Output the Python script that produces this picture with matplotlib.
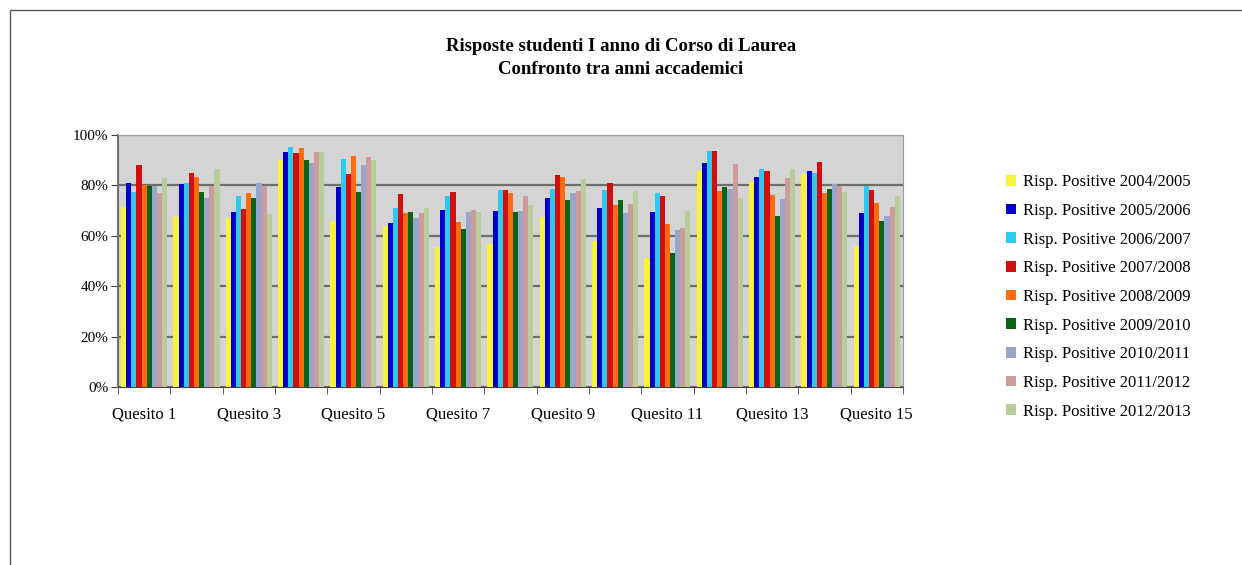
import numpy as np
import matplotlib
matplotlib.use("Agg")
from matplotlib import pyplot as plt
from matplotlib.ticker import PercentFormatter
from matplotlib.patches import Rectangle

quesiti = ["Quesito %d" % i for i in range(1, 16)]
anni = ["2004/2005", "2005/2006", "2006/2007", "2007/2008", "2008/2009",
        "2009/2010", "2010/2011", "2011/2012", "2012/2013"]

# one row per academic year, one value per question (percent)
r0405 = [71.3, 67.5, 66.9, 90.1, 65.9, 63.9, 55.7, 56.9, 67.3, 58.0, 51.4, 85.8, 81.2, 84.5, 56.0]
r0506 = [80.9, 80.5, 69.5, 93.4, 79.2, 65.1, 70.2, 69.9, 74.9, 71.2, 69.5, 88.9, 83.2, 85.8, 68.9]
r0607 = [77.2, 80.8, 75.7, 95.4, 90.5, 71.0, 75.9, 78.1, 78.5, 78.1, 76.8, 93.8, 86.5, 84.9, 79.6]
r0708 = [88.1, 84.9, 70.8, 92.8, 84.5, 76.5, 77.3, 78.3, 84.2, 80.8, 75.9, 93.8, 85.8, 89.4, 78.3]
r0809 = [80.1, 83.2, 77.1, 94.8, 91.5, 69.0, 65.3, 76.9, 83.4, 72.2, 64.6, 77.9, 76.1, 76.9, 73.2]
r0910 = [79.6, 77.5, 74.9, 90.1, 77.2, 69.6, 62.6, 69.3, 74.3, 74.2, 53.0, 79.2, 67.7, 78.5, 65.9]
r1011 = [79.6, 74.9, 80.9, 89.1, 88.2, 67.0, 69.3, 69.9, 76.8, 69.0, 62.2, 78.5, 74.6, 80.5, 67.7]
r1112 = [76.9, 79.6, 79.9, 93.1, 91.1, 68.9, 70.2, 75.9, 77.9, 72.8, 63.0, 88.5, 82.9, 79.9, 71.5]
r1213 = [82.8, 86.5, 68.6, 93.1, 90.2, 71.2, 69.3, 72.2, 82.5, 77.9, 69.9, 74.9, 86.5, 77.2, 75.9]

serie = [r0405, r0506, r0607, r0708, r0809, r0910, r1011, r1112, r1213]
colori = ["#F8F23A", "#0000C8", "#2EC8F0", "#D0100E", "#FF6A10",
          "#0A6414", "#98A6CC", "#CC9C9A", "#B8CC9C"]

plt.rcParams['font.family'] = ['Liberation Serif', 'DejaVu Serif']

fig = plt.figure(figsize=(12.42, 5.65), dpi=100)
ax = fig.add_axes([0.095, 0.315, 0.632, 0.446])

x = np.arange(len(quesiti))
n = len(serie)
w = 0.88 / n
for i, (vals, c) in enumerate(zip(serie, colori)):
    ax.bar(x - 0.44 + w * (i + 0.5), np.array(vals) / 100, w, color=c,
           label="Risp. Positive " + anni[i], zorder=3)

ax.set_facecolor("#D4D4D4")
ax.set_xlim(-0.5, len(quesiti) - 0.5)
ax.set_ylim(0, 1.0)
ax.set_yticks(np.arange(0, 1.01, 0.2))
ax.yaxis.set_major_formatter(PercentFormatter(1.0, decimals=0))
ax.yaxis.grid(True, color="#6E6E6E", linewidth=1.6, zorder=1)
ax.set_axisbelow(True)

ax.set_xticks(x[::2])
ax.set_xticklabels(quesiti[::2])
ax.set_xticks(np.arange(-0.5, len(quesiti)), minor=True)
ax.tick_params(axis="x", which="major", length=0, labelsize=12, pad=14)
ax.tick_params(axis="x", which="minor", length=5, color="#404040")
ax.tick_params(axis="y", length=5, labelsize=11, color="#404040", pad=2)

for s in ["top", "right"]:
    ax.spines[s].set_color("#9A9A9A")
ax.spines["left"].set_color("#707070")
ax.spines["left"].set_linewidth(1.5)
ax.spines["bottom"].set_color("#404040")

fig.text(0.5, 0.918, "Risposte studenti I anno di Corso di Laurea",
         ha="center", va="center", fontsize=13.5, fontweight="bold")
fig.text(0.5, 0.877, "Confronto tra anni accademici",
         ha="center", va="center", fontsize=13.5, fontweight="bold")

leg = fig.legend(loc="upper left", bbox_to_anchor=(0.798, 0.718),
                 frameon=False, fontsize=12, handlelength=0.6,
                 handleheight=0.6, handletextpad=0.4, labelspacing=0.76)

fig.patches.append(Rectangle((0.008, -0.01), 1.1, 0.992, transform=fig.transFigure,
                             fill=False, edgecolor="#555555", linewidth=1.0))

fig.savefig("out.png", dpi=100)
plt.close(fig)
